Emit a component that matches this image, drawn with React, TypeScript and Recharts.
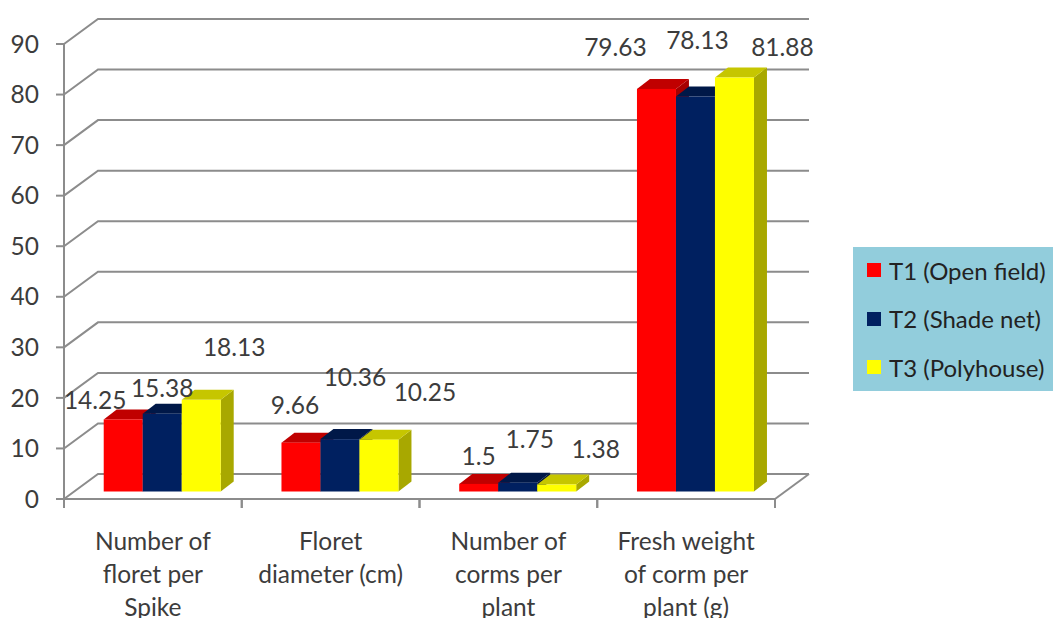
import { Bar, BarChart, CartesianGrid, LabelList, Legend, XAxis, YAxis } from "recharts";

const categories = [
  "Number of floret per Spike",
  "Floret diameter (cm)",
  "Number of corms per plant",
  "Fresh weight of corm per plant (g)",
];
const categoryLines = [
  ["Number of", "floret per", "Spike"],
  ["Floret", "diameter (cm)"],
  ["Number of", "corms per", "plant"],
  ["Fresh weight", "of corm per", "plant (g)"],
];
const t1Values = [14.25, 9.66, 1.5, 79.63];
const t2Values = [15.38, 10.36, 1.75, 78.13];
const t3Values = [18.13, 10.25, 1.38, 81.88];
const yTicks = [0, 10, 20, 30, 40, 50, 60, 70, 80, 90];

// hand placed data labels in the original, offset from bar centre / top
const t1LabelOffsets = [[-28, -20], [-6, -38], [0, -28], [-41, -42]];
const t2LabelOffsets = [[0, -26], [15, -63], [12, -44], [2, -57]];
const t3LabelOffsets = [[33, -53], [46, -48], [39, -36], [48, -31]];

const rows = categories.map((name, i) => ({
  name,
  lines: categoryLines[i],
  t1: t1Values[i],
  t2: t2Values[i],
  t3: t3Values[i],
}));

const FONT = "Lato";
const FONT_SIZE = 24.5;
const TEXT = "#3c3c3c";
const AXIS = "#8c8c8c";
const W = 1053;
const H = 618;
const PLOT_W = 711;
const BAND = PLOT_W / categories.length;
const DX = 34; // wall depth
const DY = 25;
const BAR_DX = 13; // bar depth
const BAR_DY = 10;
const BAR_LIFT = 7.5; // bars stand on the floor, not on the axis
const BAR_SHIFT = 9.5;

function WallLine(props: any) {
  const { x1, y1, x2, y, height, index } = props;
  const isFloor = Math.abs(y1 - (y + height)) < 0.5;
  return (
    <g key={index}>
      <polyline
        points={`${x1},${y1} ${x1 + DX},${y1 - DY} ${x2 + DX},${y1 - DY}`}
        fill="none"
        stroke={AXIS}
        strokeWidth={2}
      />
      {isFloor && <line x1={x2} y1={y1} x2={x2 + DX} y2={y1 - DY} stroke={AXIS} strokeWidth={2} />}
    </g>
  );
}

function bar3d(top: string, side: string) {
  return (props: any) => {
    const { x, y, width, height, fill } = props;
    const bx = x + BAR_SHIFT;
    const by = y - BAR_LIFT;
    const r = bx + width;
    return (
      <g>
        <polygon
          points={`${r},${by} ${r + BAR_DX},${by - BAR_DY} ${r + BAR_DX},${by + height - BAR_DY} ${r},${by + height}`}
          fill={side}
        />
        <polygon
          points={`${bx},${by} ${bx + BAR_DX},${by - BAR_DY} ${r + BAR_DX},${by - BAR_DY} ${r},${by}`}
          fill={top}
        />
        <rect x={bx} y={by} width={width} height={height} fill={fill} />
      </g>
    );
  };
}

function floatingLabel(offsets: number[][]) {
  return (props: any) => {
    const { x, y, width, value, index } = props;
    return (
      <text
        x={x + BAR_SHIFT + width / 2 + offsets[index][0]}
        y={y - BAR_LIFT + offsets[index][1]}
        textAnchor="middle"
        dominantBaseline="central"
        fontFamily={FONT}
        fontSize={FONT_SIZE}
        fill={TEXT}
      >
        {value}
      </text>
    );
  };
}

function CategoryTick(props: any) {
  const { x, y, index } = props;
  const lines = categoryLines[index];
  const axisY = y - 8;
  return (
    <g>
      <line x1={x - BAND / 2} y1={axisY} x2={x - BAND / 2} y2={axisY + 9} stroke={AXIS} strokeWidth={2} />
      <line x1={x + BAND / 2} y1={axisY} x2={x + BAND / 2} y2={axisY + 9} stroke={AXIS} strokeWidth={2} />
      {lines.map((line: string, i: number) => (
        <text
          key={line}
          x={x}
          y={axisY + 41 + i * 33}
          textAnchor="middle"
          dominantBaseline="central"
          fontFamily={FONT}
          fontSize={FONT_SIZE}
          fill={TEXT}
        >
          {line}
        </text>
      ))}
    </g>
  );
}

function LegendBox(props: any) {
  const items = props.payload || [];
  return (
    <div
      style={{
        width: 200,
        height: 144,
        background: "#92cddc",
        fontFamily: FONT,
        fontSize: 24,
        color: "#222",
      }}
    >
      <div style={{ position: "relative", top: -1 }}>
        {items.map((item: any) => (
          <div key={item.value} style={{ display: "flex", alignItems: "center", height: 48.5, paddingLeft: 14 }}>
            <span style={{ width: 14, height: 14, background: item.color, marginRight: 8 }} />
            <span style={{ whiteSpace: "nowrap" }}>{item.value}</span>
          </div>
        ))}
      </div>
    </div>
  );
}

export default function App() {
  return (
    <div style={{ position: "absolute", left: 0, top: 0, width: W, height: H, overflow: "hidden", background: "#fff" }}>
      <BarChart
        width={W}
        height={H}
        data={rows}
        margin={{ top: 44, right: 78, bottom: 0, left: 0 }}
        barCategoryGap="17%"
        barGap={0}
      >
        <CartesianGrid vertical={false} horizontal={WallLine} />
        <XAxis
          dataKey="name"
          height={119}
          interval={0}
          tick={CategoryTick}
          tickLine={false}
          axisLine={{ stroke: AXIS, strokeWidth: 2 }}
        />
        <YAxis
          width={64}
          domain={[0, 90]}
          ticks={yTicks}
          interval={0}
          tickSize={8}
          tickMargin={17}
          tickLine={{ stroke: AXIS, strokeWidth: 2 }}
          axisLine={{ stroke: AXIS, strokeWidth: 2 }}
          tick={{ fontFamily: FONT, fontSize: FONT_SIZE, fill: TEXT }}
        />
        <Legend
          layout="vertical"
          align="right"
          verticalAlign="middle"
          content={LegendBox}
          wrapperStyle={{ left: 853, top: 247, width: 200, right: "auto", bottom: "auto" }}
        />
        <Bar dataKey="t1" name="T1 (Open field)" fill="#ff0000" isAnimationActive={false} shape={bar3d("#c00000", "#a60000")}>
          <LabelList dataKey="t1" content={floatingLabel(t1LabelOffsets)} />
        </Bar>
        <Bar dataKey="t2" name="T2 (Shade net)" fill="#002060" isAnimationActive={false} shape={bar3d("#001848", "#00143c")}>
          <LabelList dataKey="t2" content={floatingLabel(t2LabelOffsets)} />
        </Bar>
        <Bar dataKey="t3" name="T3 (Polyhouse)" fill="#ffff00" isAnimationActive={false} shape={bar3d("#c6c600", "#a8a800")}>
          <LabelList dataKey="t3" content={floatingLabel(t3LabelOffsets)} />
        </Bar>
      </BarChart>
    </div>
  );
}
